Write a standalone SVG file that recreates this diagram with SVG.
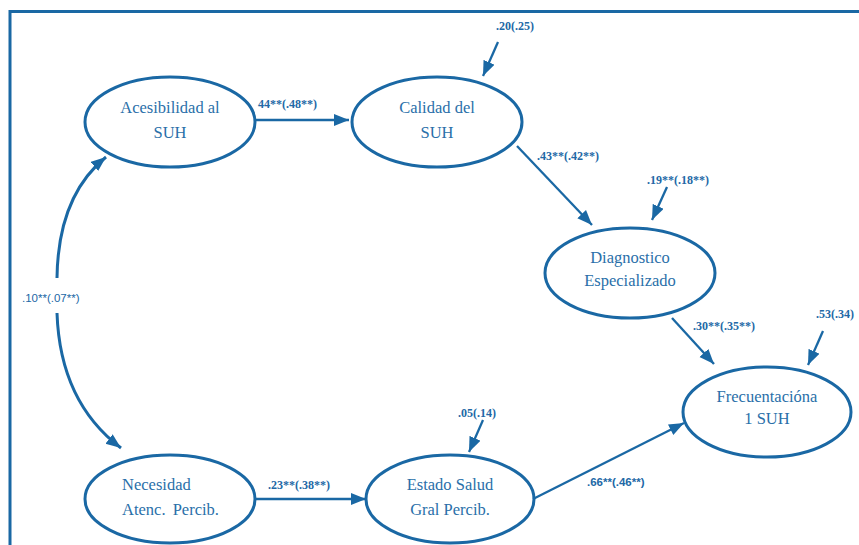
<svg xmlns="http://www.w3.org/2000/svg" width="859" height="545" viewBox="0 0 859 545">
<defs>
<marker id="ah" markerUnits="userSpaceOnUse" markerWidth="16" markerHeight="13" refX="15" refY="6" orient="auto">
<path d="M0,0 L15,6 L0,12 z" fill="#1a68a4"/>
</marker>
<style>
.node ellipse{fill:#fff;stroke:#1a68a4;stroke-width:3}
.node text{font-family:"Liberation Serif","Times New Roman",serif;font-size:16.5px;fill:#2a6fa9;text-anchor:middle}
.conn path{fill:none;stroke:#1a68a4;stroke-width:2.3;marker-end:url(#ah)}
.conn path.curve{stroke-width:3}
.lbl{font-family:"Liberation Serif","Times New Roman",serif;font-size:12px;font-weight:bold;fill:#2268a6}
.lbls{font-family:"Liberation Sans",Arial,sans-serif;font-size:11.5px;fill:#2268a6}
</style>
</defs>
<rect width="859" height="545" fill="#fff"/>
<path d="M10,548 L10,11.5 L862,11.5" fill="none" stroke="#1a68a4" stroke-width="3"/>
<g id="n-acesibilidad" class="node">
<ellipse cx="170" cy="122" rx="85" ry="45"/>
<text x="170" y="113">Acesibilidad al</text>
<text x="170" y="138">SUH</text>
</g>
<g id="n-calidad" class="node">
<ellipse cx="437" cy="122" rx="85" ry="45"/>
<text x="437" y="113">Calidad del</text>
<text x="437" y="138">SUH</text>
</g>
<g id="n-diagnostico" class="node">
<ellipse cx="630" cy="273" rx="85" ry="45"/>
<text x="630" y="263">Diagnostico</text>
<text x="630" y="286">Especializado</text>
</g>
<g id="n-frecuentacion" class="node">
<ellipse cx="767" cy="412" rx="84" ry="45"/>
<text x="767" y="402">Frecuentacióna</text>
<text x="767" y="424">1 SUH</text>
</g>
<g id="n-necesidad" class="node">
<ellipse cx="170" cy="499" rx="85" ry="44"/>
<text x="122" y="490" style="text-anchor:start">Necesidad</text>
<text x="122" y="515" style="text-anchor:start;word-spacing:3px">Atenc. Percib.</text>
</g>
<g id="n-estado" class="node">
<ellipse cx="450" cy="499" rx="84" ry="44"/>
<text x="450" y="490">Estado Salud</text>
<text x="450" y="515">Gral Percib.</text>
</g>
<g id="connectors" class="conn">
<path d="M255,120 L349,120"/>
<path d="M498,42 L483,76"/>
<path d="M517,146 L592,225"/>
<path d="M667,187 L652,220"/>
<path d="M672,318 L714,364"/>
<path d="M823,331 L808,365"/>
<path d="M255,499 L366,499"/>
<path d="M483,420 L469,452"/>
<path d="M533,499 L684,423"/>
<path class="curve" d="M57,278 Q58,196 106,157"/>
<path class="curve" d="M57,313 Q60,402 121,448"/>
</g>
<g id="labels">
<text class="lbl" x="258" y="108">44**(.48**)</text>
<text class="lbl" x="496" y="30">.20(.25)</text>
<text class="lbl" x="537" y="160">.43**(.42**)</text>
<text class="lbl" x="647" y="184">.19**(.18**)</text>
<text class="lbl" x="693" y="330">.30**(.35**)</text>
<text class="lbl" x="816" y="318">.53(.34)</text>
<text class="lbl" x="268" y="489">.23**(.38**)</text>
<text class="lbl" x="458" y="417">.05(.14)</text>
<text class="lbls" x="587" y="486" font-weight="bold" font-size="11px">.66**(.46**)</text>
<text class="lbls" x="22" y="302">.10**(.07**)</text>
</g>
</svg>
